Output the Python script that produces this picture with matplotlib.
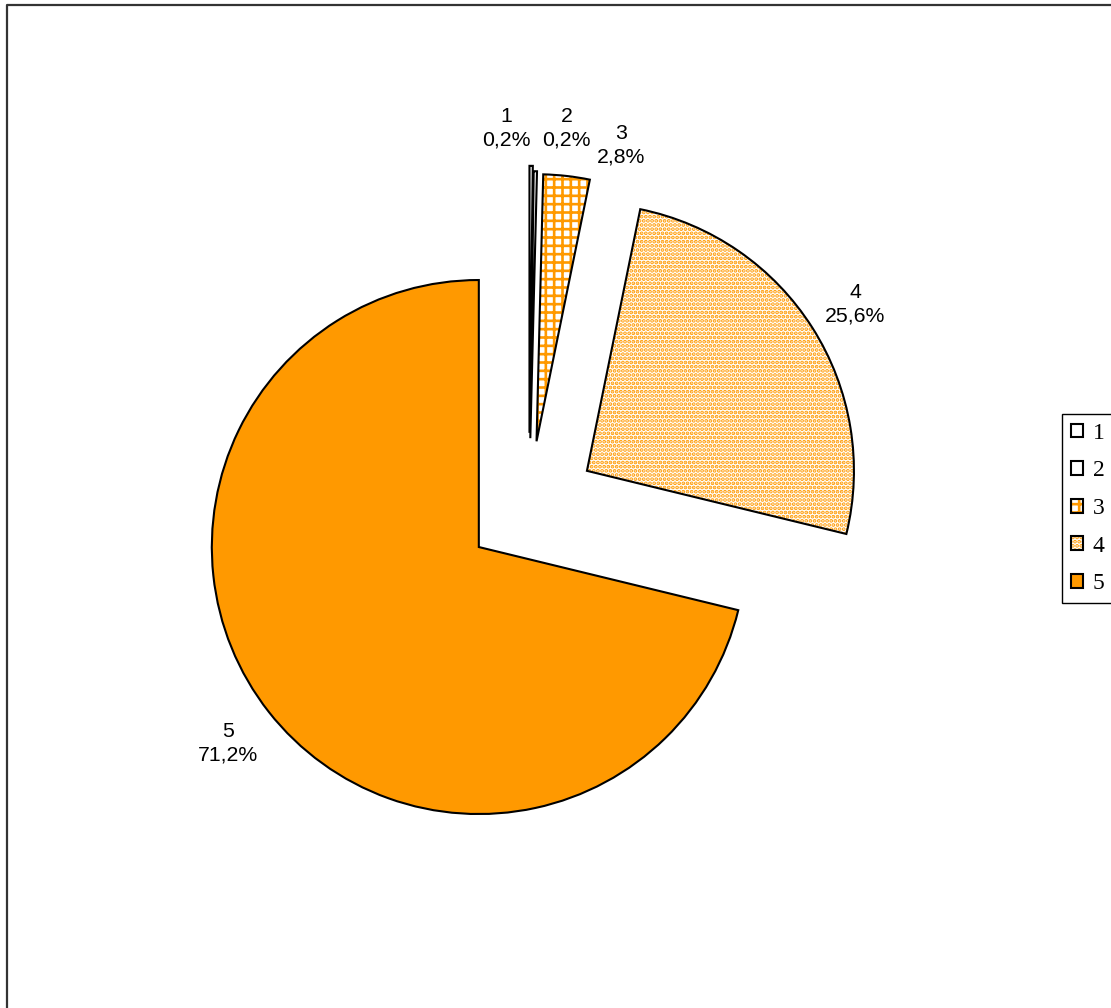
import matplotlib
matplotlib.use('Agg')
import matplotlib.pyplot as plt
from matplotlib.lines import Line2D
from matplotlib.legend_handler import HandlerTuple

# ---- data ----
categories = ['1', '2', '3', '4', '5']
shares = [0.2, 0.2, 2.8, 25.6, 71.2]

# ---- style ----
ORANGE = '#FF9900'
plt.rcParams['hatch.linewidth'] = 1.9

W, H = 1111, 1008
fig = plt.figure(figsize=(W / 100, H / 100), dpi=100)
ax = fig.add_axes([0, 0, 1, 1])

center = (529, 500.4)
R = 267
explode_frac = [0.28, 0.26, 0.25, 0.257, 0.239]
explode = [e * R for e in explode_frac]
faces = ['white', 'white', 'white', 'white', ORANGE]
hatches = [None, None, '++', '....', None]

labels = [f"{c}\n{str(v).replace('.', ',')}%" for c, v in zip(categories, shares)]

# hatched fill layer (orange hatch)
fill_wedges, _ = ax.pie(shares, explode=explode, colors=faces, hatch=hatches,
                        startangle=90, counterclock=False, radius=R, center=center,
                        wedgeprops=dict(edgecolor=ORANGE, linewidth=0))

# black outline layer + labels
edge_wedges, texts = ax.pie(shares, explode=explode, labels=labels, labeldistance=1.18,
                            startangle=90, counterclock=False, radius=R, center=center,
                            wedgeprops=dict(facecolor='none', edgecolor='black',
                                            linewidth=1.5, joinstyle='miter'),
                            textprops=dict(fontsize=15.3, family='Liberation Sans'))

for t in texts:
    t.set_ha('center')
    t.set_va('center')
    t.set_multialignment('center')
    t.set_linespacing(1.3)

# crowded small-slice labels placed side by side
label_pos = {0: (506, 879.5), 1: (566.5, 880), 2: (621.5, 863)}
for i, p in label_pos.items():
    texts[i].set_position(p)
texts[3].set_position((855, 704))
texts[4].set_position((228, 265))

ax.set_xlim(0, W)
ax.set_ylim(0, H)
ax.set_aspect('equal')
ax.axis('off')

handles = [(f, e) for f, e in zip(fill_wedges, edge_wedges)]
leg = fig.legend(handles, categories,
                 handler_map={tuple: HandlerTuple(ndivide=1, pad=0)},
                 loc='upper left', bbox_to_anchor=(1062 / W, 1 - 414 / H),
                 borderaxespad=0, frameon=True, fancybox=False, edgecolor='black',
                 framealpha=1,
                 prop={'family': 'Liberation Serif', 'size': 17},
                 handlelength=0.52, handleheight=0.52, handletextpad=0.4,
                 borderpad=0.38, labelspacing=0.7)
leg.get_frame().set_linewidth(1.0)

# outer chart-area frame
fig.add_artist(Line2D([7 / W, 7 / W, 1], [0, 1 - 5 / H, 1 - 5 / H],
                      transform=fig.transFigure, color='#333333', lw=1.6))

fig.savefig('out.png', dpi=100)
